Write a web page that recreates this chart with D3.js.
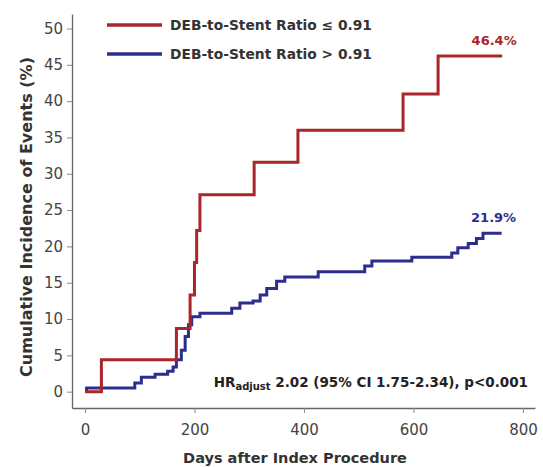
<!DOCTYPE html>
<html>
<head>
<meta charset="utf-8">
<script src="https://cdn.jsdelivr.net/npm/d3@7/dist/d3.min.js"></script>
<style>
	body { margin: 0; background: #fff; }
	text { font-family: 'DejaVu Sans', Arial, sans-serif; }
</style>
</head>
<body>
<div id="container"></div>
<script>
// step curves (days, cumulative %)
const daysLow = [0, 30, 167, 192, 200, 204, 210, 309, 389, 581, 645, 762];
const incLow = [0, 4.4, 8.7, 13.3, 17.8, 22.2, 27.1, 31.6, 36.0, 41.0, 46.2, 46.2];

const daysHigh = [0, 3, 91, 103, 128, 151, 161, 167, 176, 183, 189, 195, 210, 268, 283, 307, 320, 332, 350, 365, 426, 511, 524, 597, 670, 681, 700, 715, 727, 761];
const incHigh = [0.2, 0.5, 1.2, 2.0, 2.4, 2.8, 3.4, 4.4, 5.7, 7.6, 9.2, 10.3, 10.8, 11.5, 12.2, 12.5, 13.3, 14.2, 15.2, 15.8, 16.5, 17.3, 18.0, 18.5, 19.1, 19.8, 20.4, 21.1, 21.8, 21.8];

const seriesNames = ['DEB-to-Stent Ratio \u2264 0.91', 'DEB-to-Stent Ratio > 0.91'];
const endLabels = ['46.4%', '21.9%'];
const xTicks = [0, 200, 400, 600, 800];
const yTicks = [0, 5, 10, 15, 20, 25, 30, 35, 40, 45, 50];

const colors = ['#aa262b', '#2c2d8c'];

const width = 543;
const height = 467;
const plot = { left: 72, right: 535, top: 14, bottom: 408 };

const svg = d3.select('#container').append('svg')
	.attr('width', width)
	.attr('height', height);

const x = d3.scaleLinear().domain([-23.7, 822]).range([plot.left, plot.right]);
const y = d3.scaleLinear().domain([-2.25, 52]).range([plot.bottom, plot.top]);

// axes
const xAxis = d3.axisBottom(x).tickValues(xTicks).tickSize(5).tickPadding(11).tickSizeOuter(0);
const yAxis = d3.axisLeft(y).tickValues(yTicks).tickSize(5).tickPadding(4).tickSizeOuter(0);

const gx = svg.append('g').attr('transform', `translate(0,${plot.bottom})`).call(xAxis);
const gy = svg.append('g').attr('transform', `translate(${plot.left},0)`).call(yAxis);

[gx, gy].forEach(g => {
	g.select('.domain').attr('stroke', '#666').attr('stroke-width', 1.3);
	g.selectAll('.tick line').attr('stroke', '#888');
	g.selectAll('.tick text').attr('fill', '#444').attr('font-size', 15)
		.style('font-family', "'DejaVu Sans', Arial, sans-serif");
});

// axis titles
svg.append('text')
	.attr('x', 295).attr('y', 463)
	.attr('text-anchor', 'middle')
	.attr('font-size', 14.5).attr('font-weight', 700).attr('fill', '#333')
	.text('Days after Index Procedure');

svg.append('text')
	.attr('transform', `translate(32,217) rotate(-90)`)
	.attr('text-anchor', 'middle')
	.attr('font-size', 16).attr('font-weight', 700).attr('fill', '#333')
	.text('Cumulative Incidence of Events (%)');

// curves
const line = d3.line()
	.x(d => x(d[0]))
	.y(d => y(d[1]))
	.curve(d3.curveStepAfter);

const series = [
	d3.zip(daysLow, incLow),
	d3.zip(daysHigh, incHigh)
];

// draw blue first so red sits on top where they cross
[1, 0].forEach(i => {
	svg.append('path')
		.datum(series[i])
		.attr('d', line)
		.attr('fill', 'none')
		.attr('stroke', colors[i])
		.attr('stroke-width', 3)
		.attr('stroke-linejoin', 'miter');
});

// end labels
const lastPts = series.map(s => s[s.length - 1]);
svg.selectAll('.end-label')
	.data(endLabels).enter()
	.append('text')
	.attr('class', 'end-label')
	.attr('x', (d, i) => x(lastPts[i][0]) - 8)
	.attr('y', (d, i) => y(lastPts[i][1]) - 11)
	.attr('text-anchor', 'middle')
	.attr('font-size', 13).attr('font-weight', 700)
	.attr('fill', (d, i) => colors[i])
	.text(d => d);

// legend
const legend = svg.append('g');
seriesNames.forEach((name, i) => {
	const ly = 25 + i * 29;
	legend.append('line')
		.attr('x1', 107).attr('x2', 162)
		.attr('y1', ly).attr('y2', ly)
		.attr('stroke', colors[i]).attr('stroke-width', 3.5);
	legend.append('text')
		.attr('x', 170).attr('y', ly + 5)
		.attr('font-size', 13.8).attr('font-weight', 700).attr('fill', '#333')
		.text(name);
});

// hazard ratio annotation
const hr = svg.append('text')
	.attr('x', 528).attr('y', 387)
	.attr('text-anchor', 'end')
	.attr('font-size', 13.5).attr('font-weight', 700).attr('fill', '#222');
hr.append('tspan').text('HR');
hr.append('tspan').attr('font-size', 10).attr('dy', 3).text('adjust');
hr.append('tspan').attr('dy', -3).text(' 2.02 (95% CI 1.75-2.34), p<0.001');
</script>
</body>
</html>
